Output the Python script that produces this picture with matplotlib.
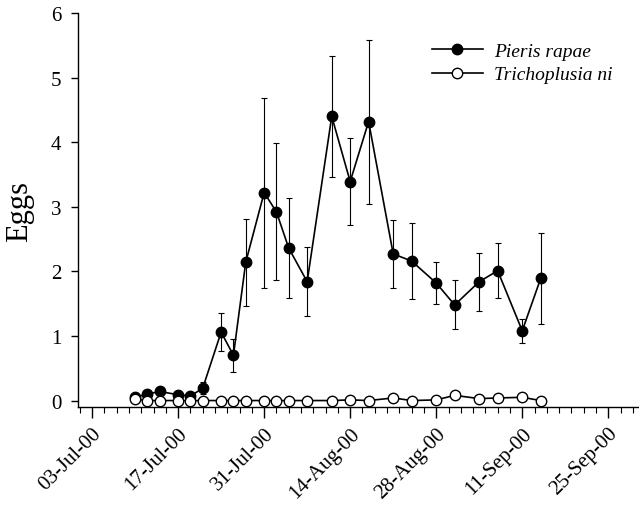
import matplotlib
matplotlib.use("Agg")
import matplotlib.pyplot as plt
import matplotlib.dates as mdates
from matplotlib.ticker import FixedLocator, NullFormatter
import datetime as dt

dates = ["2000-07-10", "2000-07-12", "2000-07-14", "2000-07-17", "2000-07-19", "2000-07-21",
         "2000-07-24", "2000-07-26", "2000-07-28", "2000-07-31", "2000-08-02", "2000-08-04",
         "2000-08-07", "2000-08-11", "2000-08-14", "2000-08-17", "2000-08-21", "2000-08-24",
         "2000-08-28", "2000-08-31", "2000-09-04", "2000-09-07", "2000-09-11", "2000-09-14"]
pieris = [0.05, 0.10, 0.14, 0.09, 0.07, 0.19, 1.06, 0.70, 2.14, 3.22, 2.92, 2.36,
          1.84, 4.40, 3.39, 4.32, 2.27, 2.16, 1.82, 1.48, 1.84, 2.01, 1.08, 1.89]
pieris_se = [0.03, 0.04, 0.05, 0.04, 0.04, 0.09, 0.30, 0.26, 0.67, 1.47, 1.06, 0.77,
             0.53, 0.94, 0.67, 1.27, 0.53, 0.59, 0.32, 0.38, 0.45, 0.43, 0.19, 0.70]
tni = [0.02, 0.00, 0.00, 0.00, 0.00, 0.00, 0.00, 0.00, 0.00, 0.00, 0.00, 0.00,
       0.00, 0.00, 0.01, 0.00, 0.04, 0.00, 0.01, 0.08, 0.03, 0.04, 0.05, 0.00]
tni_se = [0.01, 0.0, 0.0, 0.0, 0.0, 0.0, 0.0, 0.0, 0.0, 0.0, 0.0, 0.0,
          0.0, 0.0, 0.0, 0.0, 0.01, 0.0, 0.01, 0.05, 0.01, 0.01, 0.01, 0.0]
xtick_dates = ["2000-07-03", "2000-07-17", "2000-07-31", "2000-08-14",
               "2000-08-28", "2000-09-11", "2000-09-25"]
xtick_labels = ["03-Jul-00", "17-Jul-00", "31-Jul-00", "14-Aug-00",
                "28-Aug-00", "11-Sep-00", "25-Sep-00"]
yticks = [0, 1, 2, 3, 4, 5, 6]

plt.rcParams['font.family'] = ['Liberation Serif', 'DejaVu Serif']

def d2n(s):
    return mdates.date2num(dt.datetime.strptime(s, "%Y-%m-%d"))

x = [d2n(s) for s in dates]

fig = plt.figure(figsize=(6.39, 5.10), dpi=100)
ax = fig.add_axes([0.122, 0.2, 0.878, 0.7725])

ax.errorbar(x, pieris, yerr=pieris_se, fmt='none', ecolor='black', elinewidth=0.8,
            capsize=2.5, capthick=0.8, zorder=2, clip_on=False)
ax.plot(x, pieris, '-o', color='black', lw=1.2, markersize=7.5, markerfacecolor='black',
        markeredgecolor='black', label='Pieris rapae', zorder=3, clip_on=False)
ax.errorbar(x, tni, yerr=tni_se, fmt='none', ecolor='black', elinewidth=0.8,
            capsize=2.5, capthick=0.8, zorder=4, clip_on=False)
ax.plot(x, tni, '-o', color='black', lw=1.2, markersize=7.5, markerfacecolor='white',
        markeredgecolor='black', markeredgewidth=1.0, label='Trichoplusia ni', zorder=5,
        clip_on=False)

x0 = d2n("2000-07-03")
ax.set_xlim(x0 - 2.3, d2n("2000-09-25") + 5.0)
ax.set_ylim(-0.1, 6)

ax.set_xticks([d2n(s) for s in xtick_dates])
ax.set_xticklabels(xtick_labels, rotation=45, ha='right', rotation_mode='anchor', fontsize=15)
minor = [x0 + 2 * i for i in range(-1, 47)]
ax.xaxis.set_minor_locator(FixedLocator(minor))
ax.xaxis.set_minor_formatter(NullFormatter())
ax.tick_params(axis='x', which='major', direction='out', length=8, width=1, pad=4)
ax.tick_params(axis='x', which='minor', direction='out', length=4, width=0.8)

ax.set_yticks(yticks)
ax.set_yticklabels([str(v) for v in yticks], fontsize=15)
ax.tick_params(axis='y', which='major', direction='out', length=5, width=1, pad=7)

ax.set_ylabel('Eggs', fontsize=22, labelpad=12)

for s in ['top', 'right']:
    ax.spines[s].set_visible(False)
for s in ['left', 'bottom']:
    ax.spines[s].set_linewidth(1.0)

leg = ax.legend(loc='upper left', bbox_to_anchor=(0.6, 0.97), frameon=False,
                prop={'family': 'Liberation Serif', 'style': 'italic', 'size': 14},
                handlelength=2.6, handletextpad=0.6, labelspacing=0.3)

fig.savefig('out.png', dpi=100)
